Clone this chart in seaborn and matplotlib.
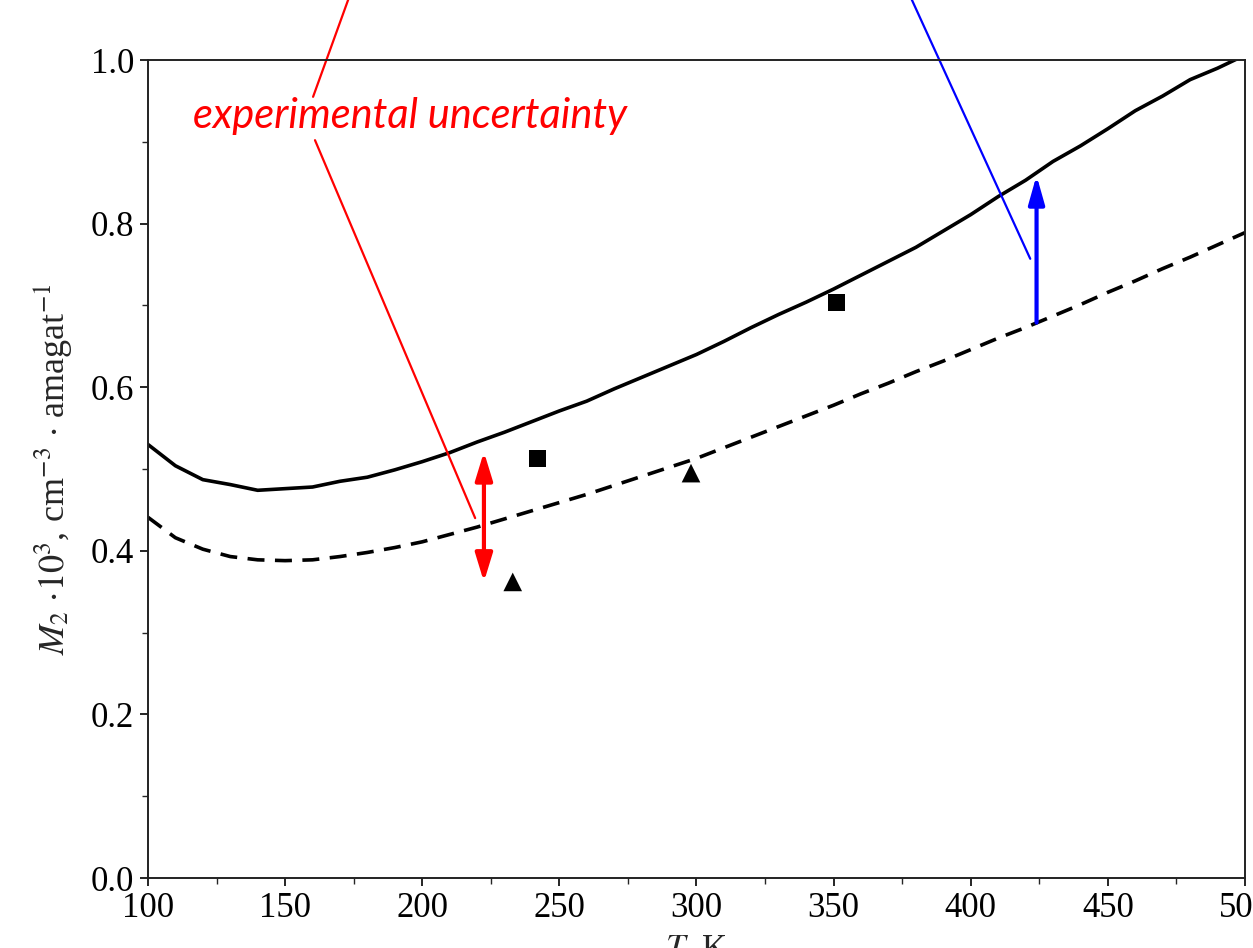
import numpy as np
import pandas as pd
import matplotlib
matplotlib.use("Agg")
import matplotlib.pyplot as plt
from matplotlib.ticker import MultipleLocator
import seaborn as sns

# Temperature grid (K) and the two model curves of the second moment
temperature = [100, 110, 120, 130, 140, 150, 160, 170, 180, 190, 200, 210, 220,
               230, 240, 250, 260, 270, 280, 290, 300, 310, 320, 330, 340, 350,
               360, 370, 380, 390, 400, 410, 420, 430, 440, 450, 460, 470, 480,
               490, 500]
m2_full = [0.530, 0.504, 0.487, 0.481, 0.474, 0.476, 0.478, 0.485, 0.490, 0.499,
           0.509, 0.520, 0.533, 0.545, 0.558, 0.571, 0.583, 0.598, 0.612, 0.626,
           0.640, 0.656, 0.673, 0.689, 0.704, 0.720, 0.737, 0.754, 0.771, 0.791,
           0.811, 0.833, 0.853, 0.876, 0.895, 0.916, 0.938, 0.956, 0.976, 0.990,
           1.006]
m2_classical = [0.441, 0.416, 0.402, 0.393, 0.389, 0.388, 0.389, 0.393, 0.398,
                0.404, 0.411, 0.420, 0.429, 0.439, 0.449, 0.459, 0.469, 0.480,
                0.491, 0.502, 0.513, 0.526, 0.539, 0.552, 0.565, 0.578, 0.592,
                0.605, 0.619, 0.632, 0.646, 0.660, 0.673, 0.687, 0.701, 0.716,
                0.730, 0.745, 0.759, 0.774, 0.789]

# Measurements
square_T = [242, 351]
square_M2 = [0.513, 0.704]
triangle_T = [233, 298]
triangle_M2 = [0.362, 0.495]

# Experimental spread (red) and quantum correction (blue)
uncertainty_T = 222.5
uncertainty_range = [0.362, 0.521]
correction_T = 424
correction_range = [0.679, 0.859]

# Leader lines of the callouts
red_lower_leader = ([160.9, 219.3], [0.902, 0.440])
red_upper_leader = ([160.2, 178.0], [0.955, 1.12])
blue_leader = ([421.7, 372.2], [0.757, 1.12])
note_text = "experimental uncertainty"
note_pos = (195.5, 0.917)

sns.set_style("ticks")
plt.rcParams["font.family"] = ["Liberation Serif", "DejaVu Serif"]
plt.rcParams["mathtext.fontset"] = "stix"

fig = plt.figure(figsize=(12.53, 9.48), dpi=100)
ax = fig.add_axes([0.1181, 0.0738, 0.8755, 0.8629])

curves = pd.DataFrame({"T": temperature, "full": m2_full, "classical": m2_classical})
sns.lineplot(data=curves, x="T", y="full", ax=ax, color="black", lw=2.6)
sns.lineplot(data=curves, x="T", y="classical", ax=ax, color="black", lw=2.6,
             linestyle=(0, (4.7, 2.9)))

sns.scatterplot(x=square_T, y=square_M2, ax=ax, marker="s", s=150,
                color="black", edgecolor="none")
sns.scatterplot(x=triangle_T, y=triangle_M2, ax=ax, marker="^", s=180,
                color="black", edgecolor="none")

# Double-headed red arrow for the experimental spread
ax.annotate("", xy=(uncertainty_T, uncertainty_range[1]),
            xytext=(uncertainty_T, uncertainty_range[0]),
            arrowprops=dict(arrowstyle="<|-|>,head_length=0.85,head_width=0.26",
                            color="red", lw=3, shrinkA=0, shrinkB=0,
                            mutation_scale=20))
# Blue arrow from the dashed to the solid curve
ax.annotate("", xy=(correction_T, correction_range[1]),
            xytext=(correction_T, correction_range[0]),
            arrowprops=dict(arrowstyle="-|>,head_length=0.85,head_width=0.24",
                            color="blue", lw=3, shrinkA=0, shrinkB=0,
                            mutation_scale=20))

ax.plot(*red_lower_leader, color="red", lw=1.6, clip_on=False)
ax.plot(*red_upper_leader, color="red", lw=1.6, clip_on=False)
ax.plot(*blue_leader, color="blue", lw=1.6, clip_on=False)

ax.text(*note_pos, note_text, color="red", fontsize=30, style="italic",
        family=["Lato", "DejaVu Sans"], ha="center", va="baseline")

ax.set_xlim(100, 500)
ax.set_ylim(0.0, 1.0)
ax.xaxis.set_major_locator(MultipleLocator(50))
ax.xaxis.set_minor_locator(MultipleLocator(25))
ax.yaxis.set_major_locator(MultipleLocator(0.2))
ax.yaxis.set_minor_locator(MultipleLocator(0.1))
ax.yaxis.set_major_formatter(matplotlib.ticker.FormatStrFormatter("%.1f"))
ax.tick_params(which="major", direction="out", length=6, width=1.2,
               labelsize=25, colors="black", pad=4)
ax.tick_params(which="minor", direction="out", length=4, width=1.0)
ax.tick_params(top=False, right=False)

for side in ["left", "bottom", "top", "right"]:
    ax.spines[side].set_visible(True)
    ax.spines[side].set_color("#222222")
    ax.spines[side].set_linewidth(1.4)

ax.set_xlabel(r"$T$, K", fontsize=25, labelpad=6)
ax.set_ylabel(r"$M_2\ {\cdot}10^3$, cm$^{-3}$ $\cdot$ amagat$^{-1}$",
              fontsize=26, labelpad=12)

fig.savefig("out.png", dpi=100)
